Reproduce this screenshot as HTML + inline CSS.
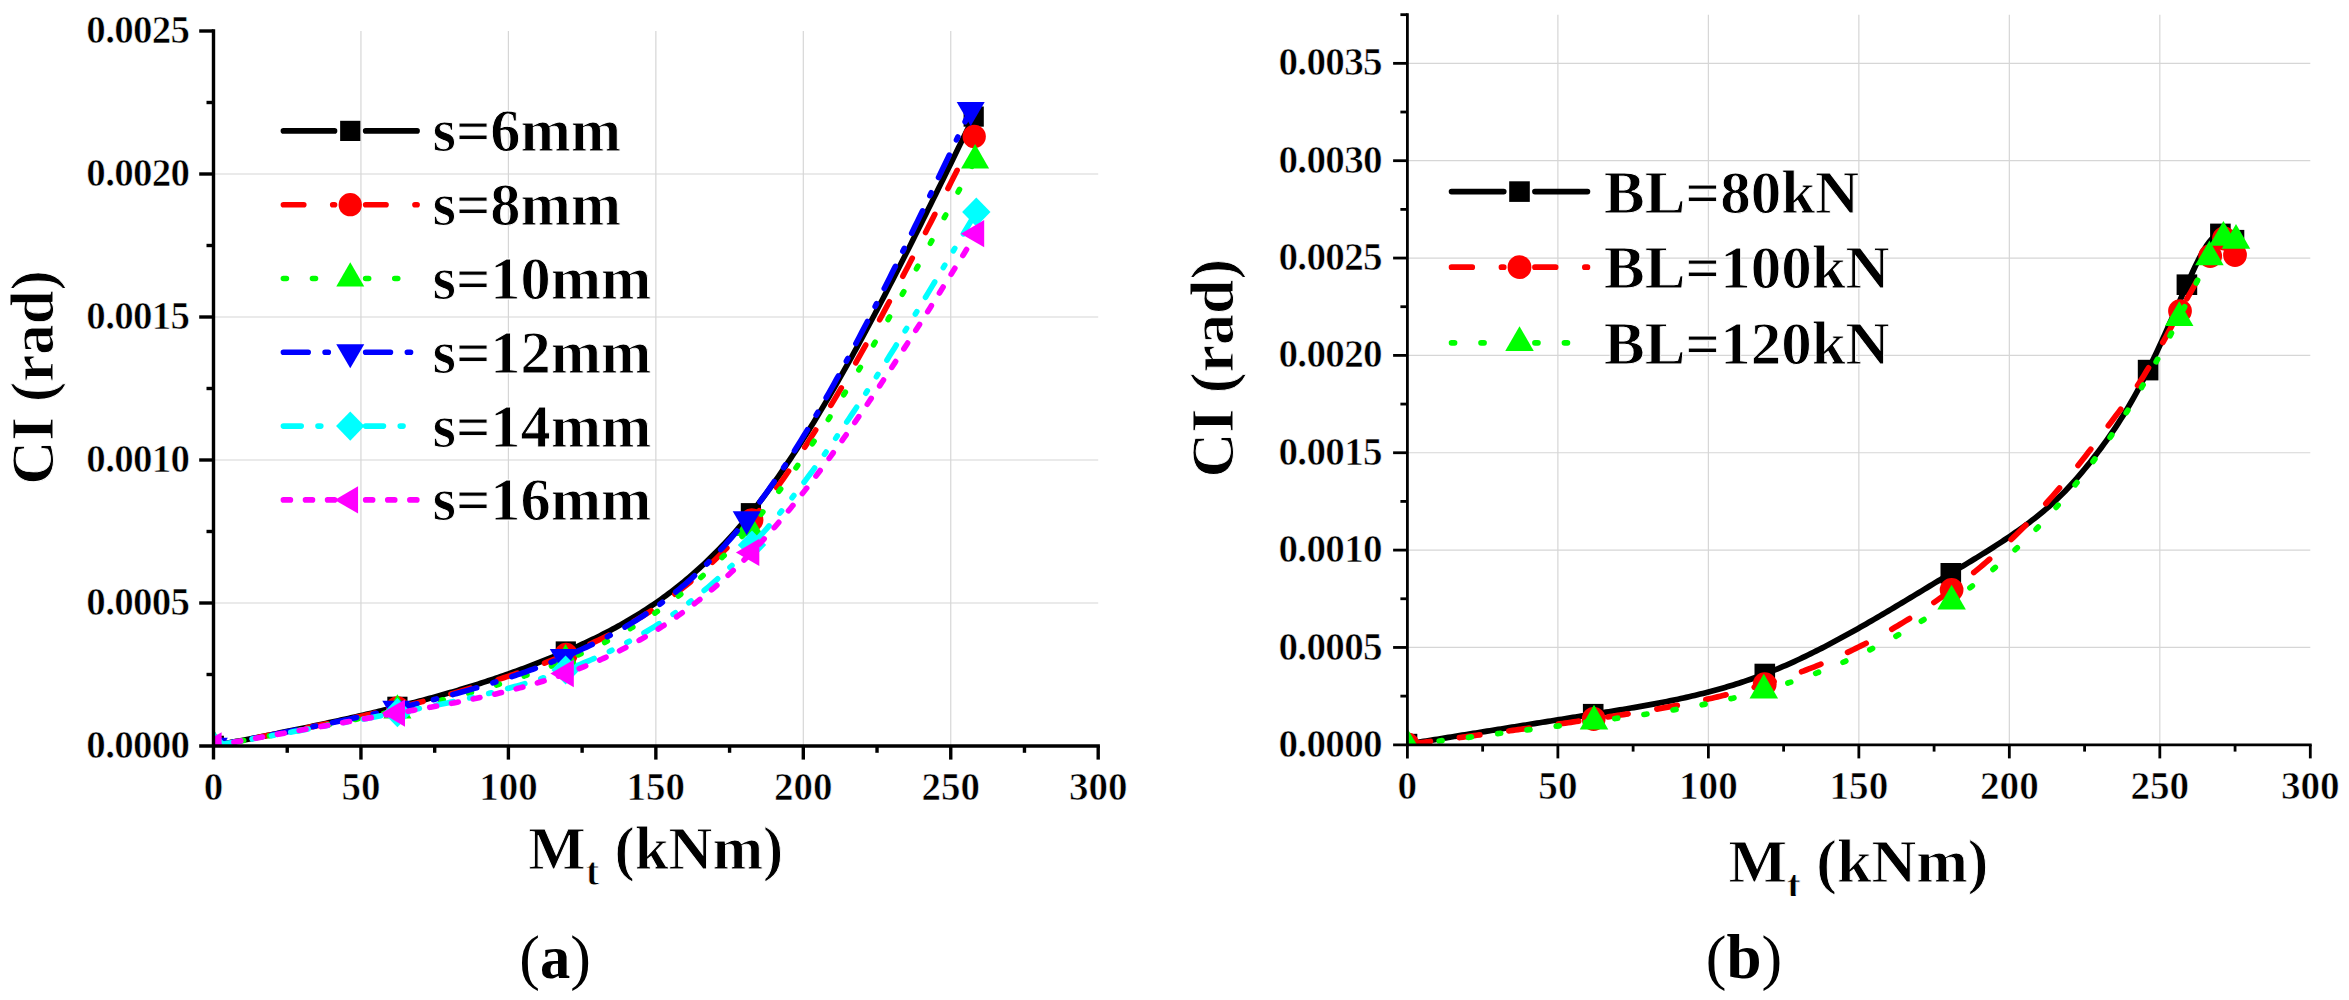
<!DOCTYPE html>
<html><head><meta charset="utf-8"><title>CI vs Mt</title>
<style>html,body{margin:0;padding:0;background:#fff}body{width:2349px;height:1000px;overflow:hidden}svg{display:block}</style>
</head><body>
<svg width="2349" height="1000" viewBox="0 0 2349 1000">
<rect width="2349" height="1000" fill="#fff"/>
<g stroke="#d6d6d6" stroke-width="1.2" fill="none"><line x1="360.95" y1="31" x2="360.95" y2="746"/><line x1="508.4" y1="31" x2="508.4" y2="746"/><line x1="655.85" y1="31" x2="655.85" y2="746"/><line x1="803.3" y1="31" x2="803.3" y2="746"/><line x1="950.75" y1="31" x2="950.75" y2="746"/><line x1="213.5" y1="603" x2="1098.2" y2="603"/><line x1="213.5" y1="460" x2="1098.2" y2="460"/><line x1="213.5" y1="317" x2="1098.2" y2="317"/><line x1="213.5" y1="174" x2="1098.2" y2="174"/></g>
<clipPath id="clipL"><rect x="213.5" y="0" width="2135.5" height="746"/></clipPath>
<g clip-path="url(#clipL)">
<path d="M213.8 745.8 L216.34 745.31 L218.88 744.82 L221.42 744.33 L223.97 743.84 L226.51 743.34 L229.05 742.85 L231.59 742.36 L234.13 741.87 L236.67 741.37 L239.21 740.88 L241.76 740.39 L244.3 739.89 L246.84 739.4 L249.38 738.9 L251.92 738.4 L254.46 737.91 L257.01 737.41 L259.55 736.91 L262.09 736.41 L264.63 735.91 L267.17 735.4 L269.71 734.9 L272.25 734.39 L274.8 733.89 L277.34 733.38 L279.88 732.87 L282.42 732.36 L284.96 731.85 L287.5 731.33 L290.04 730.82 L292.59 730.3 L295.13 729.78 L297.67 729.26 L300.21 728.74 L302.75 728.21 L305.29 727.69 L307.83 727.16 L310.38 726.63 L312.92 726.1 L315.46 725.56 L318 725.02 L320.54 724.48 L323.08 723.94 L325.62 723.4 L328.17 722.85 L330.71 722.3 L333.25 721.75 L335.79 721.2 L338.33 720.64 L340.87 720.08 L343.42 719.52 L345.96 718.95 L348.5 718.38 L351.04 717.81 L353.58 717.24 L356.12 716.66 L358.66 716.08 L361.21 715.5 L363.75 714.91 L366.29 714.32 L368.83 713.72 L371.37 713.13 L373.91 712.53 L376.45 711.92 L379 711.31 L381.54 710.7 L384.08 710.09 L386.62 709.47 L389.16 708.85 L391.7 708.22 L394.24 707.59 L396.79 706.95 L399.33 706.32 L401.87 705.67 L404.41 705.03 L406.95 704.37 L409.49 703.72 L412.03 703.06 L414.58 702.39 L417.12 701.72 L419.66 701.05 L422.2 700.37 L424.74 699.69 L427.28 699 L429.83 698.31 L432.37 697.61 L434.91 696.9 L437.45 696.19 L439.99 695.48 L442.53 694.76 L445.07 694.03 L447.62 693.3 L450.16 692.56 L452.7 691.82 L455.24 691.07 L457.78 690.32 L460.32 689.55 L462.86 688.79 L465.41 688.01 L467.95 687.23 L470.49 686.45 L473.03 685.65 L475.57 684.85 L478.11 684.05 L480.65 683.24 L483.2 682.42 L485.74 681.59 L488.28 680.75 L490.82 679.91 L493.36 679.07 L495.9 678.21 L498.44 677.35 L500.99 676.48 L503.53 675.6 L506.07 674.71 L508.61 673.82 L511.15 672.92 L513.69 672.01 L516.24 671.09 L518.78 670.17 L521.32 669.24 L523.86 668.3 L526.4 667.35 L528.94 666.39 L531.48 665.42 L534.03 664.45 L536.57 663.46 L539.11 662.47 L541.65 661.47 L544.19 660.46 L546.73 659.44 L549.27 658.41 L551.82 657.38 L554.36 656.33 L556.9 655.27 L559.44 654.21 L561.98 653.13 L564.52 652.05 L567.06 650.95 L569.61 649.85 L572.15 648.74 L574.69 647.61 L577.23 646.47 L579.77 645.32 L582.31 644.16 L584.85 642.99 L587.4 641.8 L589.94 640.6 L592.48 639.38 L595.02 638.15 L597.56 636.9 L600.1 635.64 L602.65 634.36 L605.19 633.06 L607.73 631.75 L610.27 630.41 L612.81 629.06 L615.35 627.69 L617.89 626.3 L620.44 624.89 L622.98 623.46 L625.52 622.01 L628.06 620.53 L630.6 619.04 L633.14 617.52 L635.68 615.97 L638.23 614.41 L640.77 612.82 L643.31 611.2 L645.85 609.56 L648.39 607.9 L650.93 606.2 L653.47 604.48 L656.02 602.74 L658.56 600.96 L661.1 599.16 L663.64 597.33 L666.18 595.47 L668.72 593.58 L671.26 591.66 L673.81 589.7 L676.35 587.72 L678.89 585.7 L681.43 583.66 L683.97 581.58 L686.51 579.46 L689.06 577.31 L691.6 575.13 L694.14 572.91 L696.68 570.66 L699.22 568.37 L701.76 566.05 L704.3 563.68 L706.85 561.28 L709.39 558.85 L711.93 556.37 L714.47 553.85 L717.01 551.3 L719.55 548.7 L722.09 546.07 L724.64 543.39 L727.18 540.67 L729.72 537.91 L732.26 535.11 L734.8 532.26 L737.34 529.37 L739.88 526.44 L742.43 523.46 L744.97 520.44 L747.51 517.37 L750.05 514.25 L752.59 511.09 L755.13 507.88 L757.67 504.63 L760.22 501.33 L762.76 497.98 L765.3 494.59 L767.84 491.16 L770.38 487.68 L772.92 484.16 L775.47 480.6 L778.01 477 L780.55 473.35 L783.09 469.67 L785.63 465.94 L788.17 462.18 L790.71 458.37 L793.26 454.53 L795.8 450.65 L798.34 446.73 L800.88 442.78 L803.42 438.79 L805.96 434.76 L808.5 430.7 L811.05 426.6 L813.59 422.47 L816.13 418.31 L818.67 414.11 L821.21 409.88 L823.75 405.62 L826.29 401.32 L828.84 397 L831.38 392.64 L833.92 388.26 L836.46 383.84 L839 379.4 L841.54 374.93 L844.08 370.43 L846.63 365.9 L849.17 361.35 L851.71 356.77 L854.25 352.16 L856.79 347.53 L859.33 342.87 L861.88 338.19 L864.42 333.49 L866.96 328.77 L869.5 324.02 L872.04 319.25 L874.58 314.45 L877.12 309.64 L879.67 304.81 L882.21 299.96 L884.75 295.09 L887.29 290.19 L889.83 285.29 L892.37 280.36 L894.91 275.42 L897.46 270.46 L900 265.48 L902.54 260.49 L905.08 255.48 L907.62 250.46 L910.16 245.43 L912.7 240.38 L915.25 235.32 L917.79 230.24 L920.33 225.16 L922.87 220.06 L925.41 214.95 L927.95 209.84 L930.49 204.71 L933.04 199.57 L935.58 194.43 L938.12 189.28 L940.66 184.12 L943.2 178.95 L945.74 173.78 L948.29 168.6 L950.83 163.41 L953.37 158.22 L955.91 153.03 L958.45 147.83 L960.99 142.63 L963.53 137.43 L966.08 132.22 L968.62 127.02 L971.16 121.81 L973.7 116.6" fill="none" stroke="#000000" stroke-width="5.6" stroke-linecap="round" stroke-linejoin="round"/>
<rect x="203.7" y="735.7" width="20.2" height="20.2" fill="#000000"/>
<rect x="387.3" y="696.7" width="20.2" height="20.2" fill="#000000"/>
<rect x="555.7" y="641.4" width="20.2" height="20.2" fill="#000000"/>
<rect x="740.8" y="503.1" width="20.2" height="20.2" fill="#000000"/>
<rect x="963.6" y="106.5" width="20.2" height="20.2" fill="#000000"/>
<path d="M213.8 745.8 L216.34 745.32 L218.89 744.84 L221.43 744.36 L223.97 743.87 L226.52 743.39 L229.06 742.91 L231.6 742.43 L234.15 741.95 L236.69 741.46 L239.23 740.98 L241.77 740.5 L244.32 740.01 L246.86 739.53 L249.4 739.04 L251.95 738.55 L254.49 738.07 L257.03 737.58 L259.58 737.09 L262.12 736.6 L264.66 736.11 L267.21 735.62 L269.75 735.12 L272.29 734.63 L274.84 734.13 L277.38 733.64 L279.92 733.14 L282.46 732.64 L285.01 732.14 L287.55 731.64 L290.09 731.13 L292.64 730.63 L295.18 730.12 L297.72 729.61 L300.27 729.1 L302.81 728.59 L305.35 728.08 L307.9 727.56 L310.44 727.04 L312.98 726.52 L315.53 726 L318.07 725.48 L320.61 724.95 L323.16 724.42 L325.7 723.89 L328.24 723.36 L330.78 722.83 L333.33 722.29 L335.87 721.75 L338.41 721.21 L340.96 720.66 L343.5 720.12 L346.04 719.57 L348.59 719.02 L351.13 718.46 L353.67 717.9 L356.22 717.34 L358.76 716.78 L361.3 716.21 L363.85 715.64 L366.39 715.07 L368.93 714.49 L371.47 713.92 L374.02 713.33 L376.56 712.75 L379.1 712.16 L381.65 711.57 L384.19 710.97 L386.73 710.37 L389.28 709.77 L391.82 709.17 L394.36 708.56 L396.91 707.94 L399.45 707.33 L401.99 706.71 L404.54 706.08 L407.08 705.45 L409.62 704.82 L412.17 704.18 L414.71 703.54 L417.25 702.9 L419.79 702.25 L422.34 701.59 L424.88 700.94 L427.42 700.27 L429.97 699.6 L432.51 698.93 L435.05 698.25 L437.6 697.57 L440.14 696.88 L442.68 696.19 L445.23 695.49 L447.77 694.79 L450.31 694.08 L452.86 693.36 L455.4 692.64 L457.94 691.91 L460.48 691.18 L463.03 690.44 L465.57 689.7 L468.11 688.95 L470.66 688.19 L473.2 687.43 L475.74 686.66 L478.29 685.89 L480.83 685.1 L483.37 684.32 L485.92 683.52 L488.46 682.72 L491 681.91 L493.55 681.09 L496.09 680.27 L498.63 679.44 L501.18 678.6 L503.72 677.76 L506.26 676.91 L508.8 676.05 L511.35 675.18 L513.89 674.3 L516.43 673.42 L518.98 672.53 L521.52 671.63 L524.06 670.73 L526.61 669.81 L529.15 668.89 L531.69 667.96 L534.24 667.02 L536.78 666.07 L539.32 665.11 L541.87 664.15 L544.41 663.17 L546.95 662.19 L549.49 661.2 L552.04 660.2 L554.58 659.19 L557.12 658.17 L559.67 657.14 L562.21 656.1 L564.75 655.06 L567.3 654 L569.84 652.94 L572.38 651.86 L574.93 650.77 L577.47 649.67 L580.01 648.56 L582.56 647.44 L585.1 646.3 L587.64 645.16 L590.19 643.99 L592.73 642.82 L595.27 641.63 L597.81 640.42 L600.36 639.2 L602.9 637.96 L605.44 636.7 L607.99 635.43 L610.53 634.14 L613.07 632.83 L615.62 631.51 L618.16 630.16 L620.7 628.8 L623.25 627.41 L625.79 626 L628.33 624.58 L630.88 623.13 L633.42 621.66 L635.96 620.16 L638.51 618.65 L641.05 617.11 L643.59 615.54 L646.13 613.96 L648.68 612.34 L651.22 610.7 L653.76 609.04 L656.31 607.35 L658.85 605.63 L661.39 603.88 L663.94 602.11 L666.48 600.31 L669.02 598.48 L671.57 596.61 L674.11 594.72 L676.65 592.8 L679.2 590.85 L681.74 588.87 L684.28 586.85 L686.82 584.81 L689.37 582.73 L691.91 580.61 L694.45 578.47 L697 576.28 L699.54 574.07 L702.08 571.82 L704.63 569.53 L707.17 567.2 L709.71 564.84 L712.26 562.45 L714.8 560.01 L717.34 557.54 L719.89 555.02 L722.43 552.47 L724.97 549.88 L727.52 547.25 L730.06 544.58 L732.6 541.86 L735.14 539.11 L737.69 536.31 L740.23 533.47 L742.77 530.59 L745.32 527.66 L747.86 524.69 L750.4 521.68 L752.95 518.61 L755.49 515.51 L758.03 512.36 L760.58 509.16 L763.12 505.93 L765.66 502.65 L768.21 499.32 L770.75 495.96 L773.29 492.55 L775.83 489.1 L778.38 485.61 L780.92 482.08 L783.46 478.52 L786.01 474.91 L788.55 471.26 L791.09 467.58 L793.64 463.86 L796.18 460.1 L798.72 456.31 L801.27 452.48 L803.81 448.62 L806.35 444.72 L808.9 440.78 L811.44 436.81 L813.98 432.81 L816.53 428.78 L819.07 424.72 L821.61 420.62 L824.15 416.49 L826.7 412.33 L829.24 408.14 L831.78 403.92 L834.33 399.68 L836.87 395.4 L839.41 391.1 L841.96 386.76 L844.5 382.41 L847.04 378.02 L849.59 373.61 L852.13 369.17 L854.67 364.71 L857.22 360.23 L859.76 355.72 L862.3 351.18 L864.84 346.63 L867.39 342.05 L869.93 337.45 L872.47 332.83 L875.02 328.19 L877.56 323.53 L880.1 318.84 L882.65 314.14 L885.19 309.42 L887.73 304.69 L890.28 299.93 L892.82 295.16 L895.36 290.37 L897.91 285.56 L900.45 280.74 L902.99 275.91 L905.54 271.06 L908.08 266.19 L910.62 261.31 L913.16 256.42 L915.71 251.52 L918.25 246.6 L920.79 241.68 L923.34 236.74 L925.88 231.79 L928.42 226.83 L930.97 221.87 L933.51 216.89 L936.05 211.91 L938.6 206.91 L941.14 201.92 L943.68 196.91 L946.23 191.9 L948.77 186.88 L951.31 181.86 L953.85 176.83 L956.4 171.8 L958.94 166.76 L961.48 161.72 L964.03 156.68 L966.57 151.64 L969.11 146.59 L971.66 141.55 L974.2 136.5" fill="none" stroke="#ff0000" stroke-width="5.6" stroke-linecap="round" stroke-linejoin="round" stroke-dasharray="20.4 28.9" stroke-dashoffset="3.7"/>
<circle cx="213.8" cy="745.8" r="11.65" fill="#ff0000"/>
<circle cx="397.5" cy="707.8" r="11.65" fill="#ff0000"/>
<circle cx="566.1" cy="654.5" r="11.65" fill="#ff0000"/>
<circle cx="751.8" cy="520" r="11.65" fill="#ff0000"/>
<circle cx="974.2" cy="136.5" r="11.65" fill="#ff0000"/>
<path d="M213.8 745.8 L216.35 745.35 L218.89 744.89 L221.44 744.44 L223.98 743.99 L226.53 743.53 L229.08 743.08 L231.62 742.62 L234.17 742.17 L236.72 741.72 L239.26 741.26 L241.81 740.8 L244.35 740.35 L246.9 739.89 L249.45 739.43 L251.99 738.98 L254.54 738.52 L257.08 738.06 L259.63 737.6 L262.18 737.14 L264.72 736.68 L267.27 736.22 L269.82 735.75 L272.36 735.29 L274.91 734.82 L277.45 734.36 L280 733.89 L282.55 733.42 L285.09 732.95 L287.64 732.48 L290.18 732.01 L292.73 731.54 L295.28 731.07 L297.82 730.59 L300.37 730.11 L302.92 729.64 L305.46 729.16 L308.01 728.68 L310.55 728.19 L313.1 727.71 L315.65 727.22 L318.19 726.73 L320.74 726.25 L323.28 725.75 L325.83 725.26 L328.38 724.77 L330.92 724.27 L333.47 723.77 L336.02 723.27 L338.56 722.77 L341.11 722.26 L343.65 721.76 L346.2 721.25 L348.75 720.74 L351.29 720.22 L353.84 719.71 L356.38 719.19 L358.93 718.67 L361.48 718.15 L364.02 717.62 L366.57 717.1 L369.12 716.57 L371.66 716.03 L374.21 715.5 L376.75 714.96 L379.3 714.42 L381.85 713.88 L384.39 713.33 L386.94 712.78 L389.48 712.23 L392.03 711.68 L394.58 711.12 L397.12 710.56 L399.67 710 L402.22 709.43 L404.76 708.86 L407.31 708.29 L409.85 707.71 L412.4 707.13 L414.95 706.55 L417.49 705.96 L420.04 705.37 L422.58 704.77 L425.13 704.17 L427.68 703.57 L430.22 702.96 L432.77 702.34 L435.32 701.72 L437.86 701.1 L440.41 700.47 L442.95 699.83 L445.5 699.19 L448.05 698.55 L450.59 697.89 L453.14 697.24 L455.68 696.57 L458.23 695.9 L460.78 695.23 L463.32 694.55 L465.87 693.86 L468.42 693.16 L470.96 692.46 L473.51 691.75 L476.05 691.04 L478.6 690.31 L481.15 689.58 L483.69 688.84 L486.24 688.1 L488.78 687.34 L491.33 686.58 L493.88 685.81 L496.42 685.04 L498.97 684.25 L501.52 683.46 L504.06 682.65 L506.61 681.84 L509.15 681.02 L511.7 680.19 L514.25 679.36 L516.79 678.51 L519.34 677.65 L521.88 676.79 L524.43 675.91 L526.98 675.02 L529.52 674.13 L532.07 673.22 L534.62 672.31 L537.16 671.38 L539.71 670.45 L542.25 669.5 L544.8 668.54 L547.35 667.57 L549.89 666.59 L552.44 665.6 L554.98 664.6 L557.53 663.59 L560.08 662.56 L562.62 661.53 L565.17 660.48 L567.72 659.42 L570.26 658.35 L572.81 657.26 L575.35 656.16 L577.9 655.05 L580.45 653.93 L582.99 652.79 L585.54 651.63 L588.08 650.46 L590.63 649.28 L593.18 648.08 L595.72 646.86 L598.27 645.63 L600.82 644.38 L603.36 643.11 L605.91 641.82 L608.45 640.52 L611 639.2 L613.55 637.86 L616.09 636.5 L618.64 635.11 L621.18 633.71 L623.73 632.29 L626.28 630.85 L628.82 629.39 L631.37 627.9 L633.92 626.39 L636.46 624.86 L639.01 623.31 L641.55 621.73 L644.1 620.13 L646.65 618.51 L649.19 616.86 L651.74 615.18 L654.28 613.48 L656.83 611.76 L659.38 610.01 L661.92 608.23 L664.47 606.43 L667.02 604.59 L669.56 602.73 L672.11 600.85 L674.65 598.93 L677.2 596.98 L679.75 595.01 L682.29 593 L684.84 590.97 L687.38 588.9 L689.93 586.81 L692.48 584.68 L695.02 582.52 L697.57 580.33 L700.12 578.11 L702.66 575.85 L705.21 573.56 L707.75 571.24 L710.3 568.88 L712.85 566.49 L715.39 564.06 L717.94 561.6 L720.48 559.1 L723.03 556.57 L725.58 554 L728.12 551.39 L730.67 548.75 L733.22 546.07 L735.76 543.35 L738.31 540.59 L740.85 537.79 L743.4 534.96 L745.95 532.08 L748.49 529.17 L751.04 526.21 L753.58 523.21 L756.13 520.18 L758.68 517.1 L761.22 513.99 L763.77 510.83 L766.32 507.64 L768.86 504.41 L771.41 501.15 L773.95 497.85 L776.5 494.51 L779.05 491.13 L781.59 487.72 L784.14 484.28 L786.68 480.8 L789.23 477.29 L791.78 473.74 L794.32 470.16 L796.87 466.55 L799.42 462.91 L801.96 459.23 L804.51 455.53 L807.05 451.79 L809.6 448.03 L812.15 444.23 L814.69 440.4 L817.24 436.55 L819.78 432.66 L822.33 428.75 L824.88 424.81 L827.42 420.85 L829.97 416.86 L832.52 412.84 L835.06 408.8 L837.61 404.73 L840.15 400.63 L842.7 396.51 L845.25 392.37 L847.79 388.21 L850.34 384.02 L852.88 379.81 L855.43 375.58 L857.98 371.32 L860.52 367.05 L863.07 362.75 L865.62 358.44 L868.16 354.1 L870.71 349.75 L873.25 345.37 L875.8 340.98 L878.35 336.57 L880.89 332.14 L883.44 327.7 L885.98 323.24 L888.53 318.76 L891.08 314.27 L893.62 309.76 L896.17 305.24 L898.72 300.71 L901.26 296.16 L903.81 291.59 L906.35 287.02 L908.9 282.43 L911.45 277.83 L913.99 273.22 L916.54 268.6 L919.08 263.96 L921.63 259.32 L924.18 254.67 L926.72 250.01 L929.27 245.33 L931.82 240.66 L934.36 235.97 L936.91 231.28 L939.45 226.58 L942 221.87 L944.55 217.15 L947.09 212.44 L949.64 207.71 L952.18 202.98 L954.73 198.25 L957.28 193.52 L959.82 188.78 L962.37 184.03 L964.92 179.29 L967.46 174.54 L970.01 169.8 L972.55 165.05 L975.1 160.3" fill="none" stroke="#00ff00" stroke-width="5.6" stroke-linecap="round" stroke-linejoin="round" stroke-dasharray="3 26.1" stroke-dashoffset="1.7"/>
<polygon points="213.8,729.6 199.8,753.9 227.8,753.9" fill="#00ff00"/>
<polygon points="397.4,694.3 383.4,718.6 411.4,718.6" fill="#00ff00"/>
<polygon points="565.6,644.1 551.6,668.4 579.6,668.4" fill="#00ff00"/>
<polygon points="749.5,511.8 735.5,536.1 763.5,536.1" fill="#00ff00"/>
<polygon points="975.1,144.1 961.1,168.4 989.1,168.4" fill="#00ff00"/>
<path d="M213.8 745.8 L216.33 745.32 L218.86 744.84 L221.39 744.37 L223.93 743.89 L226.46 743.41 L228.99 742.93 L231.52 742.45 L234.05 741.98 L236.58 741.5 L239.11 741.02 L241.65 740.54 L244.18 740.06 L246.71 739.58 L249.24 739.1 L251.77 738.61 L254.3 738.13 L256.83 737.65 L259.37 737.16 L261.9 736.68 L264.43 736.19 L266.96 735.71 L269.49 735.22 L272.02 734.73 L274.55 734.24 L277.09 733.75 L279.62 733.26 L282.15 732.77 L284.68 732.27 L287.21 731.78 L289.74 731.28 L292.27 730.78 L294.81 730.29 L297.34 729.79 L299.87 729.28 L302.4 728.78 L304.93 728.28 L307.46 727.77 L309.99 727.26 L312.53 726.75 L315.06 726.24 L317.59 725.73 L320.12 725.22 L322.65 724.7 L325.18 724.18 L327.71 723.66 L330.25 723.14 L332.78 722.62 L335.31 722.09 L337.84 721.56 L340.37 721.03 L342.9 720.5 L345.43 719.97 L347.97 719.43 L350.5 718.89 L353.03 718.35 L355.56 717.81 L358.09 717.26 L360.62 716.71 L363.15 716.16 L365.69 715.61 L368.22 715.05 L370.75 714.49 L373.28 713.93 L375.81 713.37 L378.34 712.8 L380.87 712.23 L383.41 711.66 L385.94 711.08 L388.47 710.51 L391 709.93 L393.53 709.34 L396.06 708.75 L398.59 708.16 L401.13 707.57 L403.66 706.98 L406.19 706.37 L408.72 705.77 L411.25 705.16 L413.78 704.55 L416.32 703.94 L418.85 703.32 L421.38 702.7 L423.91 702.07 L426.44 701.44 L428.97 700.8 L431.5 700.16 L434.04 699.51 L436.57 698.86 L439.1 698.21 L441.63 697.54 L444.16 696.88 L446.69 696.21 L449.22 695.53 L451.76 694.85 L454.29 694.16 L456.82 693.46 L459.35 692.76 L461.88 692.06 L464.41 691.34 L466.94 690.62 L469.48 689.9 L472.01 689.17 L474.54 688.43 L477.07 687.68 L479.6 686.93 L482.13 686.17 L484.66 685.4 L487.2 684.63 L489.73 683.85 L492.26 683.06 L494.79 682.26 L497.32 681.45 L499.85 680.64 L502.38 679.82 L504.92 678.99 L507.45 678.15 L509.98 677.31 L512.51 676.45 L515.04 675.59 L517.57 674.72 L520.1 673.84 L522.64 672.95 L525.17 672.05 L527.7 671.14 L530.23 670.22 L532.76 669.29 L535.29 668.36 L537.82 667.41 L540.36 666.45 L542.89 665.49 L545.42 664.51 L547.95 663.52 L550.48 662.52 L553.01 661.52 L555.54 660.5 L558.08 659.47 L560.61 658.43 L563.14 657.38 L565.67 656.31 L568.2 655.24 L570.73 654.15 L573.26 653.06 L575.8 651.94 L578.33 650.82 L580.86 649.68 L583.39 648.53 L585.92 647.36 L588.45 646.17 L590.98 644.97 L593.52 643.75 L596.05 642.52 L598.58 641.27 L601.11 640 L603.64 638.71 L606.17 637.4 L608.7 636.07 L611.24 634.72 L613.77 633.35 L616.3 631.96 L618.83 630.55 L621.36 629.12 L623.89 627.66 L626.42 626.18 L628.96 624.67 L631.49 623.15 L634.02 621.59 L636.55 620.01 L639.08 618.41 L641.61 616.78 L644.14 615.12 L646.68 613.43 L649.21 611.72 L651.74 609.98 L654.27 608.21 L656.8 606.41 L659.33 604.58 L661.86 602.72 L664.4 600.82 L666.93 598.9 L669.46 596.94 L671.99 594.96 L674.52 592.94 L677.05 590.88 L679.58 588.79 L682.12 586.67 L684.65 584.51 L687.18 582.32 L689.71 580.09 L692.24 577.82 L694.77 575.51 L697.3 573.17 L699.84 570.79 L702.37 568.37 L704.9 565.92 L707.43 563.42 L709.96 560.88 L712.49 558.3 L715.02 555.68 L717.56 553.02 L720.09 550.32 L722.62 547.57 L725.15 544.78 L727.68 541.94 L730.21 539.07 L732.74 536.14 L735.28 533.17 L737.81 530.16 L740.34 527.1 L742.87 523.99 L745.4 520.84 L747.93 517.63 L750.46 514.38 L753 511.08 L755.53 507.74 L758.06 504.35 L760.59 500.91 L763.12 497.43 L765.65 493.9 L768.18 490.33 L770.72 486.71 L773.25 483.06 L775.78 479.36 L778.31 475.61 L780.84 471.83 L783.37 468 L785.91 464.14 L788.44 460.23 L790.97 456.29 L793.5 452.31 L796.03 448.29 L798.56 444.23 L801.09 440.13 L803.63 436 L806.16 431.83 L808.69 427.63 L811.22 423.39 L813.75 419.12 L816.28 414.81 L818.81 410.47 L821.35 406.1 L823.88 401.7 L826.41 397.26 L828.94 392.8 L831.47 388.3 L834 383.77 L836.53 379.21 L839.07 374.63 L841.6 370.01 L844.13 365.37 L846.66 360.7 L849.19 356.01 L851.72 351.29 L854.25 346.54 L856.79 341.77 L859.32 336.97 L861.85 332.15 L864.38 327.3 L866.91 322.44 L869.44 317.55 L871.97 312.63 L874.51 307.7 L877.04 302.75 L879.57 297.78 L882.1 292.78 L884.63 287.77 L887.16 282.74 L889.69 277.69 L892.23 272.62 L894.76 267.54 L897.29 262.44 L899.82 257.33 L902.35 252.2 L904.88 247.05 L907.41 241.89 L909.95 236.72 L912.48 231.53 L915.01 226.33 L917.54 221.12 L920.07 215.9 L922.6 210.67 L925.13 205.43 L927.67 200.17 L930.2 194.91 L932.73 189.64 L935.26 184.36 L937.79 179.07 L940.32 173.78 L942.85 168.48 L945.39 163.17 L947.92 157.86 L950.45 152.54 L952.98 147.22 L955.51 141.9 L958.04 136.57 L960.57 131.24 L963.11 125.91 L965.64 120.57 L968.17 115.24 L970.7 109.9" fill="none" stroke="#0000ff" stroke-width="5.6" stroke-linecap="round" stroke-linejoin="round" stroke-dasharray="24.8 16.9 3.2 16.9" stroke-dashoffset="2.7"/>
<polygon points="213.8,761.8 199.8,737.8 227.8,737.8" fill="#0000ff"/>
<polygon points="396.3,724.7 382.3,700.7 410.3,700.7" fill="#0000ff"/>
<polygon points="563.8,673.1 549.8,649.1 577.8,649.1" fill="#0000ff"/>
<polygon points="746.7,535.2 732.7,511.2 760.7,511.2" fill="#0000ff"/>
<polygon points="970.7,125.9 956.7,101.9 984.7,101.9" fill="#0000ff"/>
<path d="M213.8 745.8 L216.35 745.35 L218.9 744.9 L221.45 744.45 L224 744 L226.55 743.55 L229.1 743.11 L231.65 742.66 L234.2 742.21 L236.75 741.76 L239.3 741.31 L241.85 740.86 L244.4 740.41 L246.95 739.96 L249.5 739.51 L252.05 739.06 L254.6 738.61 L257.15 738.16 L259.7 737.7 L262.25 737.25 L264.8 736.8 L267.35 736.35 L269.9 735.9 L272.45 735.45 L275 734.99 L277.55 734.54 L280.1 734.09 L282.65 733.63 L285.2 733.18 L287.75 732.73 L290.31 732.27 L292.86 731.82 L295.41 731.36 L297.96 730.91 L300.51 730.45 L303.06 729.99 L305.61 729.54 L308.16 729.08 L310.71 728.62 L313.26 728.16 L315.81 727.7 L318.36 727.25 L320.91 726.79 L323.46 726.33 L326.01 725.86 L328.56 725.4 L331.11 724.94 L333.66 724.48 L336.21 724.02 L338.76 723.55 L341.31 723.09 L343.86 722.62 L346.41 722.16 L348.96 721.69 L351.51 721.23 L354.06 720.76 L356.61 720.29 L359.16 719.82 L361.71 719.35 L364.26 718.88 L366.81 718.41 L369.36 717.94 L371.91 717.47 L374.46 716.99 L377.01 716.52 L379.56 716.04 L382.11 715.57 L384.66 715.09 L387.21 714.62 L389.76 714.14 L392.31 713.66 L394.86 713.18 L397.41 712.7 L399.96 712.22 L402.51 711.73 L405.06 711.25 L407.61 710.76 L410.16 710.28 L412.71 709.79 L415.26 709.3 L417.81 708.8 L420.36 708.31 L422.91 707.81 L425.46 707.31 L428.01 706.81 L430.56 706.3 L433.11 705.79 L435.66 705.27 L438.21 704.76 L440.76 704.24 L443.32 703.71 L445.87 703.18 L448.42 702.65 L450.97 702.11 L453.52 701.56 L456.07 701.01 L458.62 700.46 L461.17 699.9 L463.72 699.34 L466.27 698.76 L468.82 698.19 L471.37 697.6 L473.92 697.01 L476.47 696.42 L479.02 695.82 L481.57 695.21 L484.12 694.59 L486.67 693.96 L489.22 693.33 L491.77 692.69 L494.32 692.05 L496.87 691.39 L499.42 690.73 L501.97 690.05 L504.52 689.37 L507.07 688.68 L509.62 687.99 L512.17 687.28 L514.72 686.56 L517.27 685.83 L519.82 685.1 L522.37 684.35 L524.92 683.59 L527.47 682.83 L530.02 682.05 L532.57 681.26 L535.12 680.46 L537.67 679.65 L540.22 678.83 L542.77 678 L545.32 677.15 L547.87 676.3 L550.42 675.43 L552.97 674.55 L555.52 673.65 L558.07 672.75 L560.62 671.83 L563.17 670.9 L565.72 669.95 L568.27 669 L570.82 668.02 L573.37 667.04 L575.92 666.04 L578.47 665.02 L581.02 663.99 L583.57 662.95 L586.12 661.89 L588.67 660.81 L591.22 659.72 L593.77 658.61 L596.33 657.49 L598.88 656.35 L601.43 655.19 L603.98 654.01 L606.53 652.81 L609.08 651.6 L611.63 650.37 L614.18 649.12 L616.73 647.85 L619.28 646.56 L621.83 645.25 L624.38 643.92 L626.93 642.57 L629.48 641.2 L632.03 639.81 L634.58 638.4 L637.13 636.96 L639.68 635.51 L642.23 634.03 L644.78 632.53 L647.33 631 L649.88 629.46 L652.43 627.89 L654.98 626.29 L657.53 624.67 L660.08 623.03 L662.63 621.36 L665.18 619.67 L667.73 617.96 L670.28 616.21 L672.83 614.44 L675.38 612.65 L677.93 610.83 L680.48 608.98 L683.03 607.11 L685.58 605.2 L688.13 603.27 L690.68 601.31 L693.23 599.33 L695.78 597.31 L698.33 595.27 L700.88 593.2 L703.43 591.09 L705.98 588.96 L708.53 586.8 L711.08 584.6 L713.63 582.38 L716.18 580.12 L718.73 577.84 L721.28 575.52 L723.83 573.17 L726.38 570.79 L728.93 568.37 L731.48 565.93 L734.03 563.44 L736.58 560.93 L739.13 558.38 L741.68 555.8 L744.23 553.18 L746.78 550.53 L749.34 547.85 L751.89 545.12 L754.44 542.37 L756.99 539.57 L759.54 536.75 L762.09 533.88 L764.64 530.99 L767.19 528.06 L769.74 525.1 L772.29 522.1 L774.84 519.07 L777.39 516.01 L779.94 512.92 L782.49 509.8 L785.04 506.64 L787.59 503.46 L790.14 500.25 L792.69 497 L795.24 493.73 L797.79 490.43 L800.34 487.1 L802.89 483.74 L805.44 480.36 L807.99 476.94 L810.54 473.5 L813.09 470.04 L815.64 466.55 L818.19 463.03 L820.74 459.49 L823.29 455.92 L825.84 452.33 L828.39 448.71 L830.94 445.08 L833.49 441.41 L836.04 437.73 L838.59 434.02 L841.14 430.29 L843.69 426.54 L846.24 422.77 L848.79 418.98 L851.34 415.17 L853.89 411.34 L856.44 407.49 L858.99 403.62 L861.54 399.73 L864.09 395.82 L866.64 391.9 L869.19 387.95 L871.74 383.99 L874.29 380.02 L876.84 376.02 L879.39 372.02 L881.94 367.99 L884.49 363.95 L887.04 359.9 L889.59 355.83 L892.14 351.75 L894.69 347.66 L897.24 343.55 L899.79 339.43 L902.35 335.3 L904.9 331.15 L907.45 327 L910 322.83 L912.55 318.66 L915.1 314.47 L917.65 310.27 L920.2 306.07 L922.75 301.85 L925.3 297.63 L927.85 293.4 L930.4 289.16 L932.95 284.91 L935.5 280.66 L938.05 276.4 L940.6 272.13 L943.15 267.86 L945.7 263.59 L948.25 259.3 L950.8 255.02 L953.35 250.73 L955.9 246.43 L958.45 242.14 L961 237.84 L963.55 233.53 L966.1 229.23 L968.65 224.92 L971.2 220.62 L973.75 216.31 L976.3 212" fill="none" stroke="#00ffff" stroke-width="5.6" stroke-linecap="round" stroke-linejoin="round" stroke-dasharray="17.8 16.8 2.8 16.8 2.8 16.8" stroke-dashoffset="-4.3"/>
<polygon points="213.8,731.2 228,745.8 213.8,760.4 199.6,745.8" fill="#00ffff"/>
<polygon points="397.4,698.1 411.6,712.7 397.4,727.3 383.2,712.7" fill="#00ffff"/>
<polygon points="565.6,655.4 579.8,670 565.6,684.6 551.4,670" fill="#00ffff"/>
<polygon points="752,530.4 766.2,545 752,559.6 737.8,545" fill="#00ffff"/>
<polygon points="976.3,197.4 990.5,212 976.3,226.6 962.1,212" fill="#00ffff"/>
<path d="M213.8 745.8 L216.35 745.34 L218.9 744.88 L221.45 744.42 L224 743.96 L226.55 743.51 L229.1 743.05 L231.65 742.59 L234.2 742.13 L236.75 741.67 L239.31 741.21 L241.86 740.75 L244.41 740.29 L246.96 739.84 L249.51 739.38 L252.06 738.92 L254.61 738.46 L257.16 738 L259.71 737.54 L262.26 737.09 L264.81 736.63 L267.36 736.17 L269.91 735.71 L272.46 735.26 L275.01 734.8 L277.56 734.34 L280.11 733.88 L282.66 733.43 L285.21 732.97 L287.76 732.51 L290.32 732.05 L292.87 731.6 L295.42 731.14 L297.97 730.69 L300.52 730.23 L303.07 729.77 L305.62 729.32 L308.17 728.86 L310.72 728.41 L313.27 727.95 L315.82 727.5 L318.37 727.04 L320.92 726.59 L323.47 726.13 L326.02 725.68 L328.57 725.22 L331.12 724.77 L333.67 724.32 L336.22 723.86 L338.77 723.41 L341.33 722.96 L343.88 722.5 L346.43 722.05 L348.98 721.6 L351.53 721.15 L354.08 720.69 L356.63 720.24 L359.18 719.79 L361.73 719.34 L364.28 718.89 L366.83 718.44 L369.38 717.99 L371.93 717.54 L374.48 717.09 L377.03 716.64 L379.58 716.19 L382.13 715.74 L384.68 715.3 L387.23 714.85 L389.78 714.4 L392.34 713.95 L394.89 713.51 L397.44 713.06 L399.99 712.61 L402.54 712.17 L405.09 711.72 L407.64 711.27 L410.19 710.83 L412.74 710.38 L415.29 709.93 L417.84 709.48 L420.39 709.03 L422.94 708.57 L425.49 708.12 L428.04 707.66 L430.59 707.2 L433.14 706.74 L435.69 706.27 L438.24 705.8 L440.79 705.33 L443.35 704.86 L445.9 704.38 L448.45 703.9 L451 703.41 L453.55 702.92 L456.1 702.42 L458.65 701.92 L461.2 701.42 L463.75 700.91 L466.3 700.39 L468.85 699.87 L471.4 699.34 L473.95 698.81 L476.5 698.26 L479.05 697.72 L481.6 697.16 L484.15 696.6 L486.7 696.03 L489.25 695.46 L491.8 694.87 L494.36 694.28 L496.91 693.68 L499.46 693.08 L502.01 692.46 L504.56 691.83 L507.11 691.2 L509.66 690.55 L512.21 689.9 L514.76 689.24 L517.31 688.56 L519.86 687.88 L522.41 687.19 L524.96 686.48 L527.51 685.77 L530.06 685.04 L532.61 684.3 L535.16 683.55 L537.71 682.79 L540.26 682.02 L542.81 681.24 L545.37 680.44 L547.92 679.63 L550.47 678.8 L553.02 677.97 L555.57 677.12 L558.12 676.26 L560.67 675.38 L563.22 674.49 L565.77 673.58 L568.32 672.66 L570.87 671.73 L573.42 670.78 L575.97 669.82 L578.52 668.84 L581.07 667.84 L583.62 666.83 L586.17 665.8 L588.72 664.76 L591.27 663.7 L593.82 662.62 L596.38 661.52 L598.93 660.41 L601.48 659.28 L604.03 658.13 L606.58 656.96 L609.13 655.78 L611.68 654.57 L614.23 653.35 L616.78 652.11 L619.33 650.85 L621.88 649.57 L624.43 648.26 L626.98 646.94 L629.53 645.6 L632.08 644.23 L634.63 642.85 L637.18 641.44 L639.73 640.02 L642.28 638.57 L644.83 637.09 L647.39 635.6 L649.94 634.08 L652.49 632.54 L655.04 630.98 L657.59 629.4 L660.14 627.79 L662.69 626.15 L665.24 624.5 L667.79 622.81 L670.34 621.11 L672.89 619.37 L675.44 617.62 L677.99 615.83 L680.54 614.03 L683.09 612.19 L685.64 610.33 L688.19 608.45 L690.74 606.53 L693.29 604.59 L695.84 602.62 L698.4 600.63 L700.95 598.61 L703.5 596.55 L706.05 594.48 L708.6 592.37 L711.15 590.23 L713.7 588.07 L716.25 585.87 L718.8 583.65 L721.35 581.39 L723.9 579.11 L726.45 576.79 L729 574.45 L731.55 572.07 L734.1 569.67 L736.65 567.23 L739.2 564.76 L741.75 562.26 L744.3 559.72 L746.85 557.16 L749.41 554.56 L751.96 551.93 L754.51 549.26 L757.06 546.57 L759.61 543.84 L762.16 541.07 L764.71 538.28 L767.26 535.46 L769.81 532.6 L772.36 529.72 L774.91 526.8 L777.46 523.86 L780.01 520.89 L782.56 517.88 L785.11 514.85 L787.66 511.79 L790.21 508.7 L792.76 505.59 L795.31 502.45 L797.86 499.28 L800.42 496.09 L802.97 492.87 L805.52 489.62 L808.07 486.35 L810.62 483.05 L813.17 479.73 L815.72 476.39 L818.27 473.02 L820.82 469.63 L823.37 466.22 L825.92 462.78 L828.47 459.32 L831.02 455.84 L833.57 452.34 L836.12 448.82 L838.67 445.27 L841.22 441.71 L843.77 438.13 L846.32 434.52 L848.87 430.9 L851.43 427.26 L853.98 423.6 L856.53 419.92 L859.08 416.23 L861.63 412.52 L864.18 408.79 L866.73 405.04 L869.28 401.28 L871.83 397.5 L874.38 393.71 L876.93 389.9 L879.48 386.08 L882.03 382.24 L884.58 378.39 L887.13 374.53 L889.68 370.65 L892.23 366.76 L894.78 362.86 L897.33 358.95 L899.88 355.02 L902.44 351.08 L904.99 347.14 L907.54 343.18 L910.09 339.21 L912.64 335.23 L915.19 331.24 L917.74 327.25 L920.29 323.24 L922.84 319.23 L925.39 315.21 L927.94 311.18 L930.49 307.14 L933.04 303.1 L935.59 299.05 L938.14 294.99 L940.69 290.93 L943.24 286.87 L945.79 282.8 L948.34 278.72 L950.89 274.64 L953.45 270.56 L956 266.47 L958.55 262.38 L961.1 258.29 L963.65 254.19 L966.2 250.1 L968.75 246 L971.3 241.9 L973.85 237.8 L976.4 233.7" fill="none" stroke="#ff00ff" stroke-width="5.6" stroke-linecap="round" stroke-linejoin="round" stroke-dasharray="7 15.1" stroke-dashoffset="1.7"/>
<polygon points="198.2,745.8 221.6,732.15 221.6,759.45" fill="#ff00ff"/>
<polygon points="381.6,713.1 405,699.45 405,726.75" fill="#ff00ff"/>
<polygon points="550.4,673.5 573.8,659.85 573.8,687.15" fill="#ff00ff"/>
<polygon points="735.9,552.4 759.3,538.75 759.3,566.05" fill="#ff00ff"/>
<polygon points="960.8,233.7 984.2,220.05 984.2,247.35" fill="#ff00ff"/>
</g>
<g stroke="#000" stroke-width="3.4" fill="none"><line x1="213.5" y1="29.3" x2="213.5" y2="759.6"/><line x1="199.2" y1="746" x2="1099.9" y2="746"/><line x1="287.23" y1="746" x2="287.23" y2="752.8"/><line x1="360.95" y1="746" x2="360.95" y2="759.6"/><line x1="434.68" y1="746" x2="434.68" y2="752.8"/><line x1="508.4" y1="746" x2="508.4" y2="759.6"/><line x1="582.12" y1="746" x2="582.12" y2="752.8"/><line x1="655.85" y1="746" x2="655.85" y2="759.6"/><line x1="729.58" y1="746" x2="729.58" y2="752.8"/><line x1="803.3" y1="746" x2="803.3" y2="759.6"/><line x1="877.03" y1="746" x2="877.03" y2="752.8"/><line x1="950.75" y1="746" x2="950.75" y2="759.6"/><line x1="1024.47" y1="746" x2="1024.47" y2="752.8"/><line x1="1098.2" y1="746" x2="1098.2" y2="759.6"/><line x1="206.5" y1="674.5" x2="213.5" y2="674.5"/><line x1="199.2" y1="603" x2="213.5" y2="603"/><line x1="206.5" y1="531.5" x2="213.5" y2="531.5"/><line x1="199.2" y1="460" x2="213.5" y2="460"/><line x1="206.5" y1="388.5" x2="213.5" y2="388.5"/><line x1="199.2" y1="317" x2="213.5" y2="317"/><line x1="206.5" y1="245.5" x2="213.5" y2="245.5"/><line x1="199.2" y1="174" x2="213.5" y2="174"/><line x1="206.5" y1="102.5" x2="213.5" y2="102.5"/><line x1="199.2" y1="31" x2="213.5" y2="31"/></g>
<g font-family='"Liberation Serif", "DejaVu Serif", serif' font-weight="bold" font-size="39" fill="#000" stroke="#fff" stroke-width="0.6"><text x="189.4" y="757.98" text-anchor="end" letter-spacing="-0.7">0.0000</text><text x="189.4" y="614.98" text-anchor="end" letter-spacing="-0.7">0.0005</text><text x="189.4" y="471.98" text-anchor="end" letter-spacing="-0.7">0.0010</text><text x="189.4" y="328.98" text-anchor="end" letter-spacing="-0.7">0.0015</text><text x="189.4" y="185.98" text-anchor="end" letter-spacing="-0.7">0.0020</text><text x="189.4" y="42.98" text-anchor="end" letter-spacing="-0.7">0.0025</text><text x="213.5" y="799.5" text-anchor="middle">0</text><text x="360.95" y="799.5" text-anchor="middle">50</text><text x="508.4" y="799.5" text-anchor="middle">100</text><text x="655.85" y="799.5" text-anchor="middle">150</text><text x="803.3" y="799.5" text-anchor="middle">200</text><text x="950.75" y="799.5" text-anchor="middle">250</text><text x="1098.2" y="799.5" text-anchor="middle">300</text></g>
<path d="M283.4 130.9 L334.55 130.9 M365.65 130.9 L417.1 130.9" fill="none" stroke="#000000" stroke-width="5.6" stroke-linecap="round"/>
<rect x="340.15" y="120.8" width="20.2" height="20.2" fill="#000000"/>
<text x="432.4" y="151.3" font-family='"Liberation Serif", "DejaVu Serif", serif' font-weight="bold" font-size="60.4" fill="#000" stroke="#fff" stroke-width="0.9">s=6mm</text>
<path d="M283.4 204.7 L334.55 204.7 M365.65 204.7 L417.1 204.7" fill="none" stroke="#ff0000" stroke-width="5.6" stroke-linecap="round" stroke-dasharray="20.4 28.9"/>
<circle cx="350.25" cy="204.7" r="11.65" fill="#ff0000"/>
<text x="432.4" y="225.1" font-family='"Liberation Serif", "DejaVu Serif", serif' font-weight="bold" font-size="60.4" fill="#000" stroke="#fff" stroke-width="0.9">s=8mm</text>
<path d="M283.4 278.5 L334.55 278.5 M365.65 278.5 L417.1 278.5" fill="none" stroke="#00ff00" stroke-width="5.6" stroke-linecap="round" stroke-dasharray="3 26.1"/>
<polygon points="350.25,262.3 336.25,286.6 364.25,286.6" fill="#00ff00"/>
<text x="432.4" y="298.9" font-family='"Liberation Serif", "DejaVu Serif", serif' font-weight="bold" font-size="60.4" fill="#000" stroke="#fff" stroke-width="0.9">s=10mm</text>
<path d="M283.4 352.3 L334.55 352.3 M365.65 352.3 L417.1 352.3" fill="none" stroke="#0000ff" stroke-width="5.6" stroke-linecap="round" stroke-dasharray="24.8 16.9 3.2 16.9"/>
<polygon points="350.25,368.3 336.25,344.3 364.25,344.3" fill="#0000ff"/>
<text x="432.4" y="372.7" font-family='"Liberation Serif", "DejaVu Serif", serif' font-weight="bold" font-size="60.4" fill="#000" stroke="#fff" stroke-width="0.9">s=12mm</text>
<path d="M283.4 426.1 L334.55 426.1 M365.65 426.1 L417.1 426.1" fill="none" stroke="#00ffff" stroke-width="5.6" stroke-linecap="round" stroke-dasharray="17.8 16.8 2.8 16.8 2.8 16.8"/>
<polygon points="350.25,411.5 364.45,426.1 350.25,440.7 336.05,426.1" fill="#00ffff"/>
<text x="432.4" y="446.5" font-family='"Liberation Serif", "DejaVu Serif", serif' font-weight="bold" font-size="60.4" fill="#000" stroke="#fff" stroke-width="0.9">s=14mm</text>
<path d="M283.4 499.9 L334.55 499.9 M365.65 499.9 L417.1 499.9" fill="none" stroke="#ff00ff" stroke-width="5.6" stroke-linecap="round" stroke-dasharray="7 15.1"/>
<polygon points="334.65,499.9 358.05,486.25 358.05,513.55" fill="#ff00ff"/>
<text x="432.4" y="520.3" font-family='"Liberation Serif", "DejaVu Serif", serif' font-weight="bold" font-size="60.4" fill="#000" stroke="#fff" stroke-width="0.9">s=16mm</text>
<clipPath id="clipLT"><rect x="0" y="0" width="2349" height="1000"/></clipPath>
<text clip-path="url(#clipLT)" x="655.8" y="869" text-anchor="middle" font-family='"Liberation Serif", "DejaVu Serif", serif' font-weight="bold" font-size="60.8" fill="#000" stroke="#fff" stroke-width="0.9">M<tspan font-size="40.55" dy="16.23">t</tspan><tspan dy="-16.23"> (kNm)</tspan></text>
<text transform="translate(53.2 377.5) rotate(-90)" text-anchor="middle" font-family='"Liberation Serif", "DejaVu Serif", serif' font-weight="bold" font-size="60.8" fill="#000" stroke="#fff" stroke-width="0.9">CI (rad)</text>
<text x="555" y="978" text-anchor="middle" font-family='"Liberation Serif", "DejaVu Serif", serif' font-size="62" fill="#000">(<tspan font-weight="bold" font-size="60.5">a</tspan>)</text>
<g stroke="#d6d6d6" stroke-width="1.2" fill="none"><line x1="1557.88" y1="14.7" x2="1557.88" y2="744.8"/><line x1="1708.37" y1="14.7" x2="1708.37" y2="744.8"/><line x1="1858.85" y1="14.7" x2="1858.85" y2="744.8"/><line x1="2009.33" y1="14.7" x2="2009.33" y2="744.8"/><line x1="2159.82" y1="14.7" x2="2159.82" y2="744.8"/><line x1="1407.4" y1="647.45" x2="2310.3" y2="647.45"/><line x1="1407.4" y1="550.1" x2="2310.3" y2="550.1"/><line x1="1407.4" y1="452.75" x2="2310.3" y2="452.75"/><line x1="1407.4" y1="355.4" x2="2310.3" y2="355.4"/><line x1="1407.4" y1="258.05" x2="2310.3" y2="258.05"/><line x1="1407.4" y1="160.7" x2="2310.3" y2="160.7"/><line x1="1407.4" y1="63.35" x2="2310.3" y2="63.35"/></g>
<clipPath id="clipR"><rect x="1407.4" y="0" width="941.6" height="744.8"/></clipPath>
<g clip-path="url(#clipR)">
<path d="M1407 744.1 L1409.77 743.65 L1412.53 743.21 L1415.3 742.76 L1418.06 742.32 L1420.83 741.87 L1423.6 741.42 L1426.36 740.98 L1429.13 740.53 L1431.89 740.09 L1434.66 739.64 L1437.42 739.19 L1440.19 738.75 L1442.96 738.3 L1445.72 737.86 L1448.49 737.41 L1451.25 736.96 L1454.02 736.52 L1456.79 736.07 L1459.55 735.63 L1462.32 735.18 L1465.08 734.74 L1467.85 734.29 L1470.62 733.84 L1473.38 733.4 L1476.15 732.95 L1478.91 732.51 L1481.68 732.06 L1484.44 731.62 L1487.21 731.17 L1489.98 730.73 L1492.74 730.28 L1495.51 729.84 L1498.27 729.39 L1501.04 728.95 L1503.81 728.5 L1506.57 728.06 L1509.34 727.62 L1512.1 727.17 L1514.87 726.73 L1517.64 726.28 L1520.4 725.84 L1523.17 725.4 L1525.93 724.95 L1528.7 724.51 L1531.46 724.06 L1534.23 723.62 L1537 723.18 L1539.76 722.73 L1542.53 722.29 L1545.29 721.85 L1548.06 721.41 L1550.83 720.96 L1553.59 720.52 L1556.36 720.08 L1559.12 719.64 L1561.89 719.19 L1564.66 718.75 L1567.42 718.31 L1570.19 717.87 L1572.95 717.43 L1575.72 716.99 L1578.48 716.54 L1581.25 716.1 L1584.02 715.66 L1586.78 715.22 L1589.55 714.78 L1592.31 714.34 L1595.08 713.9 L1597.85 713.46 L1600.61 713.02 L1603.38 712.58 L1606.14 712.14 L1608.91 711.69 L1611.68 711.25 L1614.44 710.8 L1617.21 710.35 L1619.97 709.9 L1622.74 709.44 L1625.51 708.98 L1628.27 708.52 L1631.04 708.05 L1633.8 707.58 L1636.57 707.11 L1639.33 706.62 L1642.1 706.14 L1644.87 705.65 L1647.63 705.15 L1650.4 704.64 L1653.16 704.13 L1655.93 703.61 L1658.7 703.09 L1661.46 702.56 L1664.23 702.02 L1666.99 701.47 L1669.76 700.91 L1672.53 700.34 L1675.29 699.76 L1678.06 699.18 L1680.82 698.58 L1683.59 697.97 L1686.35 697.36 L1689.12 696.73 L1691.89 696.09 L1694.65 695.44 L1697.42 694.77 L1700.18 694.1 L1702.95 693.41 L1705.72 692.71 L1708.48 691.99 L1711.25 691.27 L1714.01 690.52 L1716.78 689.77 L1719.55 688.99 L1722.31 688.21 L1725.08 687.41 L1727.84 686.59 L1730.61 685.76 L1733.37 684.91 L1736.14 684.04 L1738.91 683.16 L1741.67 682.26 L1744.44 681.34 L1747.2 680.4 L1749.97 679.45 L1752.74 678.47 L1755.5 677.48 L1758.27 676.47 L1761.03 675.44 L1763.8 674.39 L1766.57 673.31 L1769.33 672.22 L1772.1 671.11 L1774.86 669.98 L1777.63 668.83 L1780.39 667.66 L1783.16 666.47 L1785.93 665.27 L1788.69 664.04 L1791.46 662.8 L1794.22 661.54 L1796.99 660.27 L1799.76 658.97 L1802.52 657.67 L1805.29 656.34 L1808.05 655 L1810.82 653.65 L1813.59 652.28 L1816.35 650.9 L1819.12 649.5 L1821.88 648.09 L1824.65 646.67 L1827.41 645.23 L1830.18 643.78 L1832.95 642.32 L1835.71 640.84 L1838.48 639.36 L1841.24 637.86 L1844.01 636.35 L1846.78 634.83 L1849.54 633.3 L1852.31 631.76 L1855.07 630.22 L1857.84 628.66 L1860.61 627.09 L1863.37 625.52 L1866.14 623.93 L1868.9 622.34 L1871.67 620.74 L1874.43 619.14 L1877.2 617.52 L1879.97 615.91 L1882.73 614.28 L1885.5 612.65 L1888.26 611.01 L1891.03 609.37 L1893.8 607.72 L1896.56 606.07 L1899.33 604.42 L1902.09 602.76 L1904.86 601.1 L1907.63 599.43 L1910.39 597.76 L1913.16 596.09 L1915.92 594.42 L1918.69 592.75 L1921.45 591.07 L1924.22 589.39 L1926.99 587.72 L1929.75 586.04 L1932.52 584.36 L1935.28 582.68 L1938.05 581.01 L1940.82 579.33 L1943.58 577.66 L1946.35 575.99 L1949.11 574.32 L1951.88 572.65 L1954.65 570.98 L1957.41 569.32 L1960.18 567.65 L1962.94 565.99 L1965.71 564.32 L1968.47 562.65 L1971.24 560.97 L1974.01 559.28 L1976.77 557.59 L1979.54 555.89 L1982.3 554.18 L1985.07 552.46 L1987.84 550.73 L1990.6 548.98 L1993.37 547.22 L1996.13 545.44 L1998.9 543.65 L2001.67 541.83 L2004.43 540 L2007.2 538.15 L2009.96 536.27 L2012.73 534.37 L2015.49 532.45 L2018.26 530.5 L2021.03 528.52 L2023.79 526.52 L2026.56 524.49 L2029.32 522.42 L2032.09 520.32 L2034.86 518.19 L2037.62 516 L2040.39 513.78 L2043.15 511.5 L2045.92 509.16 L2048.69 506.77 L2051.45 504.32 L2054.22 501.79 L2056.98 499.2 L2059.75 496.53 L2062.52 493.78 L2065.28 490.95 L2068.05 488.04 L2070.81 485.06 L2073.58 482 L2076.34 478.86 L2079.11 475.65 L2081.88 472.38 L2084.64 469.03 L2087.41 465.62 L2090.17 462.15 L2092.94 458.62 L2095.71 455.02 L2098.47 451.37 L2101.24 447.67 L2104 443.9 L2106.77 440.06 L2109.54 436.14 L2112.3 432.14 L2115.07 428.05 L2117.83 423.86 L2120.6 419.57 L2123.36 415.17 L2126.13 410.65 L2128.9 406.01 L2131.66 401.24 L2134.43 396.33 L2137.19 391.28 L2139.96 386.1 L2142.73 380.78 L2145.49 375.34 L2148.26 369.78 L2151.02 364.11 L2153.79 358.33 L2156.56 352.45 L2159.32 346.49 L2162.09 340.46 L2164.85 334.37 L2167.62 328.22 L2170.38 322.03 L2173.15 315.8 L2175.92 309.55 L2178.68 303.29 L2181.45 297.02 L2184.21 290.76 L2186.98 284.52 L2189.75 278.32 L2192.51 272.22 L2195.28 266.31 L2198.04 260.65 L2200.81 255.33 L2203.58 250.42 L2206.34 246 L2209.11 242.15 L2211.87 238.94 L2214.64 236.45 L2217.4 234.75 L2220.17 233.93 L2222.94 234.02 L2225.7 234.88 L2228.47 236.33 L2231.23 238.17 L2234 240.2" fill="none" stroke="#000000" stroke-width="5.7" stroke-linecap="round" stroke-linejoin="round"/>
<rect x="1396.7" y="733.8" width="20.6" height="20.6" fill="#000000"/>
<rect x="1582.9" y="703.9" width="20.6" height="20.6" fill="#000000"/>
<rect x="1754.5" y="663.7" width="20.6" height="20.6" fill="#000000"/>
<rect x="1940.5" y="563" width="20.6" height="20.6" fill="#000000"/>
<rect x="2137.8" y="359.8" width="20.6" height="20.6" fill="#000000"/>
<rect x="2176.6" y="274.4" width="20.6" height="20.6" fill="#000000"/>
<rect x="2210.1" y="223.6" width="20.6" height="20.6" fill="#000000"/>
<rect x="2223.7" y="229.9" width="20.6" height="20.6" fill="#000000"/>
<path d="M1407.5 744.5 L1410.27 744.13 L1413.04 743.77 L1415.8 743.4 L1418.57 743.03 L1421.34 742.67 L1424.11 742.3 L1426.87 741.93 L1429.64 741.57 L1432.41 741.2 L1435.18 740.83 L1437.94 740.47 L1440.71 740.1 L1443.48 739.73 L1446.25 739.36 L1449.01 739 L1451.78 738.63 L1454.55 738.26 L1457.32 737.89 L1460.08 737.52 L1462.85 737.15 L1465.62 736.78 L1468.39 736.41 L1471.15 736.04 L1473.92 735.67 L1476.69 735.3 L1479.46 734.93 L1482.22 734.55 L1484.99 734.18 L1487.76 733.81 L1490.53 733.44 L1493.29 733.06 L1496.06 732.69 L1498.83 732.31 L1501.6 731.94 L1504.36 731.56 L1507.13 731.18 L1509.9 730.8 L1512.67 730.43 L1515.43 730.05 L1518.2 729.67 L1520.97 729.29 L1523.74 728.91 L1526.51 728.53 L1529.27 728.14 L1532.04 727.76 L1534.81 727.38 L1537.58 726.99 L1540.34 726.61 L1543.11 726.22 L1545.88 725.83 L1548.65 725.45 L1551.41 725.06 L1554.18 724.67 L1556.95 724.28 L1559.72 723.89 L1562.48 723.49 L1565.25 723.1 L1568.02 722.71 L1570.79 722.31 L1573.55 721.92 L1576.32 721.52 L1579.09 721.12 L1581.86 720.72 L1584.62 720.32 L1587.39 719.92 L1590.16 719.52 L1592.93 719.11 L1595.69 718.71 L1598.46 718.3 L1601.23 717.89 L1604 717.49 L1606.76 717.07 L1609.53 716.66 L1612.3 716.25 L1615.07 715.83 L1617.83 715.41 L1620.6 714.99 L1623.37 714.56 L1626.14 714.13 L1628.9 713.7 L1631.67 713.26 L1634.44 712.82 L1637.21 712.38 L1639.97 711.93 L1642.74 711.47 L1645.51 711.02 L1648.28 710.56 L1651.05 710.09 L1653.81 709.62 L1656.58 709.14 L1659.35 708.65 L1662.12 708.17 L1664.88 707.67 L1667.65 707.17 L1670.42 706.66 L1673.19 706.15 L1675.95 705.63 L1678.72 705.1 L1681.49 704.57 L1684.26 704.02 L1687.02 703.47 L1689.79 702.92 L1692.56 702.35 L1695.33 701.78 L1698.09 701.2 L1700.86 700.61 L1703.63 700.01 L1706.4 699.4 L1709.16 698.79 L1711.93 698.16 L1714.7 697.52 L1717.47 696.88 L1720.23 696.23 L1723 695.56 L1725.77 694.89 L1728.54 694.2 L1731.3 693.5 L1734.07 692.8 L1736.84 692.08 L1739.61 691.35 L1742.37 690.61 L1745.14 689.86 L1747.91 689.1 L1750.68 688.32 L1753.44 687.53 L1756.21 686.73 L1758.98 685.92 L1761.75 685.09 L1764.52 684.26 L1767.28 683.41 L1770.05 682.54 L1772.82 681.66 L1775.59 680.77 L1778.35 679.86 L1781.12 678.95 L1783.89 678.01 L1786.66 677.06 L1789.42 676.1 L1792.19 675.13 L1794.96 674.14 L1797.73 673.13 L1800.49 672.11 L1803.26 671.08 L1806.03 670.03 L1808.8 668.96 L1811.56 667.88 L1814.33 666.78 L1817.1 665.67 L1819.87 664.54 L1822.63 663.4 L1825.4 662.24 L1828.17 661.06 L1830.94 659.87 L1833.7 658.66 L1836.47 657.43 L1839.24 656.19 L1842.01 654.93 L1844.77 653.65 L1847.54 652.36 L1850.31 651.05 L1853.08 649.72 L1855.84 648.37 L1858.61 647 L1861.38 645.62 L1864.15 644.22 L1866.91 642.8 L1869.68 641.36 L1872.45 639.91 L1875.22 638.43 L1877.98 636.94 L1880.75 635.43 L1883.52 633.89 L1886.29 632.34 L1889.06 630.77 L1891.82 629.18 L1894.59 627.57 L1897.36 625.94 L1900.13 624.3 L1902.89 622.63 L1905.66 620.94 L1908.43 619.23 L1911.2 617.49 L1913.96 615.74 L1916.73 613.97 L1919.5 612.18 L1922.27 610.36 L1925.03 608.53 L1927.8 606.67 L1930.57 604.79 L1933.34 602.89 L1936.1 600.97 L1938.87 599.03 L1941.64 597.06 L1944.41 595.07 L1947.17 593.06 L1949.94 591.03 L1952.71 588.97 L1955.48 586.89 L1958.24 584.79 L1961.01 582.67 L1963.78 580.52 L1966.55 578.34 L1969.31 576.14 L1972.08 573.92 L1974.85 571.66 L1977.62 569.38 L1980.38 567.08 L1983.15 564.75 L1985.92 562.38 L1988.69 559.99 L1991.45 557.58 L1994.22 555.13 L1996.99 552.65 L1999.76 550.14 L2002.53 547.6 L2005.29 545.03 L2008.06 542.43 L2010.83 539.8 L2013.6 537.13 L2016.36 534.43 L2019.13 531.7 L2021.9 528.93 L2024.67 526.13 L2027.43 523.3 L2030.2 520.43 L2032.97 517.53 L2035.74 514.6 L2038.5 511.63 L2041.27 508.62 L2044.04 505.59 L2046.81 502.52 L2049.57 499.41 L2052.34 496.27 L2055.11 493.09 L2057.88 489.89 L2060.64 486.64 L2063.41 483.36 L2066.18 480.05 L2068.95 476.71 L2071.71 473.32 L2074.48 469.91 L2077.25 466.46 L2080.02 462.97 L2082.78 459.46 L2085.55 455.9 L2088.32 452.32 L2091.09 448.71 L2093.85 445.07 L2096.62 441.41 L2099.39 437.74 L2102.16 434.05 L2104.92 430.36 L2107.69 426.66 L2110.46 422.96 L2113.23 419.26 L2115.99 415.58 L2118.76 411.89 L2121.53 408.18 L2124.3 404.45 L2127.07 400.66 L2129.83 396.8 L2132.6 392.86 L2135.37 388.81 L2138.14 384.65 L2140.9 380.35 L2143.67 375.9 L2146.44 371.34 L2149.21 366.66 L2151.97 361.88 L2154.74 357.02 L2157.51 352.09 L2160.28 347.1 L2163.04 342.07 L2165.81 337.01 L2168.58 331.93 L2171.35 326.85 L2174.11 321.78 L2176.88 316.74 L2179.65 311.73 L2182.42 306.77 L2185.18 301.85 L2187.95 296.95 L2190.72 292.06 L2193.49 287.14 L2196.25 282.19 L2199.02 277.19 L2201.79 272.12 L2204.56 266.97 L2207.32 261.7 L2210.09 256.31 L2212.86 250.87 L2215.63 245.81 L2218.39 241.69 L2221.16 239.06 L2223.93 238.48 L2226.7 240.31 L2229.46 244.11 L2232.23 249.23 L2235 255" fill="none" stroke="#ff0000" stroke-width="5.7" stroke-linecap="round" stroke-linejoin="round" stroke-dasharray="20.7 29.2" stroke-dashoffset="-2.4"/>
<circle cx="1407.5" cy="744.5" r="11.88" fill="#ff0000"/>
<circle cx="1593.7" cy="719" r="11.88" fill="#ff0000"/>
<circle cx="1764.7" cy="684.2" r="11.88" fill="#ff0000"/>
<circle cx="1951.6" cy="589.8" r="11.88" fill="#ff0000"/>
<circle cx="2180" cy="311.1" r="11.88" fill="#ff0000"/>
<circle cx="2210.2" cy="256.1" r="11.88" fill="#ff0000"/>
<circle cx="2224" cy="238.5" r="11.88" fill="#ff0000"/>
<circle cx="2235" cy="255" r="11.88" fill="#ff0000"/>
<path d="M1407.5 744.9 L1410.27 744.56 L1413.04 744.21 L1415.81 743.87 L1418.58 743.52 L1421.35 743.18 L1424.13 742.83 L1426.9 742.49 L1429.67 742.14 L1432.44 741.8 L1435.21 741.45 L1437.98 741.11 L1440.75 740.76 L1443.52 740.41 L1446.29 740.07 L1449.06 739.72 L1451.83 739.38 L1454.61 739.03 L1457.38 738.69 L1460.15 738.34 L1462.92 737.99 L1465.69 737.65 L1468.46 737.3 L1471.23 736.95 L1474 736.61 L1476.77 736.26 L1479.54 735.91 L1482.31 735.57 L1485.09 735.22 L1487.86 734.87 L1490.63 734.52 L1493.4 734.17 L1496.17 733.82 L1498.94 733.48 L1501.71 733.13 L1504.48 732.78 L1507.25 732.43 L1510.02 732.08 L1512.79 731.73 L1515.57 731.38 L1518.34 731.03 L1521.11 730.67 L1523.88 730.32 L1526.65 729.97 L1529.42 729.62 L1532.19 729.27 L1534.96 728.91 L1537.73 728.56 L1540.5 728.21 L1543.27 727.85 L1546.05 727.5 L1548.82 727.14 L1551.59 726.79 L1554.36 726.43 L1557.13 726.08 L1559.9 725.72 L1562.67 725.37 L1565.44 725.01 L1568.21 724.65 L1570.98 724.29 L1573.75 723.93 L1576.53 723.57 L1579.3 723.22 L1582.07 722.86 L1584.84 722.5 L1587.61 722.13 L1590.38 721.77 L1593.15 721.41 L1595.92 721.05 L1598.69 720.69 L1601.46 720.32 L1604.23 719.96 L1607.01 719.59 L1609.78 719.22 L1612.55 718.85 L1615.32 718.48 L1618.09 718.11 L1620.86 717.73 L1623.63 717.35 L1626.4 716.97 L1629.17 716.59 L1631.94 716.2 L1634.71 715.81 L1637.48 715.42 L1640.26 715.02 L1643.03 714.62 L1645.8 714.21 L1648.57 713.8 L1651.34 713.39 L1654.11 712.97 L1656.88 712.55 L1659.65 712.12 L1662.42 711.68 L1665.19 711.24 L1667.96 710.8 L1670.74 710.35 L1673.51 709.89 L1676.28 709.42 L1679.05 708.95 L1681.82 708.47 L1684.59 707.99 L1687.36 707.5 L1690.13 707 L1692.9 706.49 L1695.67 705.98 L1698.44 705.45 L1701.22 704.92 L1703.99 704.38 L1706.76 703.84 L1709.53 703.28 L1712.3 702.71 L1715.07 702.14 L1717.84 701.55 L1720.61 700.96 L1723.38 700.36 L1726.15 699.74 L1728.92 699.12 L1731.7 698.48 L1734.47 697.84 L1737.24 697.18 L1740.01 696.51 L1742.78 695.84 L1745.55 695.15 L1748.32 694.44 L1751.09 693.73 L1753.86 693 L1756.63 692.27 L1759.4 691.52 L1762.18 690.75 L1764.95 689.98 L1767.72 689.19 L1770.49 688.39 L1773.26 687.57 L1776.03 686.74 L1778.8 685.9 L1781.57 685.04 L1784.34 684.17 L1787.11 683.29 L1789.88 682.39 L1792.66 681.48 L1795.43 680.55 L1798.2 679.61 L1800.97 678.65 L1803.74 677.68 L1806.51 676.7 L1809.28 675.7 L1812.05 674.68 L1814.82 673.65 L1817.59 672.61 L1820.36 671.55 L1823.14 670.47 L1825.91 669.38 L1828.68 668.27 L1831.45 667.14 L1834.22 666 L1836.99 664.85 L1839.76 663.67 L1842.53 662.48 L1845.3 661.28 L1848.07 660.05 L1850.84 658.81 L1853.62 657.56 L1856.39 656.28 L1859.16 654.99 L1861.93 653.69 L1864.7 652.36 L1867.47 651.02 L1870.24 649.65 L1873.01 648.28 L1875.78 646.88 L1878.55 645.46 L1881.32 644.03 L1884.1 642.58 L1886.87 641.11 L1889.64 639.62 L1892.41 638.11 L1895.18 636.59 L1897.95 635.04 L1900.72 633.48 L1903.49 631.89 L1906.26 630.29 L1909.03 628.67 L1911.8 627.02 L1914.58 625.36 L1917.35 623.68 L1920.12 621.98 L1922.89 620.26 L1925.66 618.52 L1928.43 616.75 L1931.2 614.97 L1933.97 613.17 L1936.74 611.34 L1939.51 609.5 L1942.28 607.63 L1945.06 605.74 L1947.83 603.83 L1950.6 601.9 L1953.37 599.95 L1956.14 597.98 L1958.91 595.98 L1961.68 593.96 L1964.45 591.92 L1967.22 589.86 L1969.99 587.76 L1972.76 585.65 L1975.54 583.51 L1978.31 581.34 L1981.08 579.14 L1983.85 576.92 L1986.62 574.67 L1989.39 572.39 L1992.16 570.08 L1994.93 567.74 L1997.7 565.38 L2000.47 562.98 L2003.24 560.55 L2006.02 558.09 L2008.79 555.59 L2011.56 553.07 L2014.33 550.51 L2017.1 547.91 L2019.87 545.28 L2022.64 542.62 L2025.41 539.92 L2028.18 537.19 L2030.95 534.41 L2033.72 531.6 L2036.49 528.76 L2039.27 525.87 L2042.04 522.95 L2044.81 519.98 L2047.58 516.98 L2050.35 513.94 L2053.12 510.85 L2055.89 507.72 L2058.66 504.55 L2061.43 501.34 L2064.2 498.09 L2066.97 494.79 L2069.75 491.44 L2072.52 488.06 L2075.29 484.62 L2078.06 481.14 L2080.83 477.62 L2083.6 474.04 L2086.37 470.42 L2089.14 466.75 L2091.91 463.03 L2094.68 459.26 L2097.45 455.45 L2100.23 451.58 L2103 447.66 L2105.77 443.69 L2108.54 439.67 L2111.31 435.59 L2114.08 431.46 L2116.85 427.28 L2119.62 423.05 L2122.39 418.76 L2125.16 414.41 L2127.93 410.01 L2130.71 405.55 L2133.48 401.03 L2136.25 396.46 L2139.02 391.83 L2141.79 387.14 L2144.56 382.39 L2147.33 377.58 L2150.1 372.71 L2152.87 367.78 L2155.64 362.79 L2158.41 357.74 L2161.19 352.62 L2163.96 347.44 L2166.73 342.2 L2169.5 336.89 L2172.27 331.52 L2175.04 326.09 L2177.81 320.58 L2180.58 315.01 L2183.35 309.39 L2186.12 303.72 L2188.89 298.04 L2191.67 292.35 L2194.44 286.67 L2197.21 281.02 L2199.98 275.42 L2202.75 269.89 L2205.52 264.45 L2208.29 259.11 L2211.06 253.89 L2213.83 248.96 L2216.6 244.55 L2219.37 240.91 L2222.15 238.28 L2224.92 236.92 L2227.69 236.75 L2230.46 237.5 L2233.23 238.85 L2236 240.5" fill="none" stroke="#00ff00" stroke-width="5.7" stroke-linecap="round" stroke-linejoin="round" stroke-dasharray="3 26.5" stroke-dashoffset="-2.4"/>
<polygon points="1407.5,728.38 1393.22,753.16 1421.78,753.16" fill="#00ff00"/>
<polygon points="1594,704.78 1579.72,729.56 1608.28,729.56" fill="#00ff00"/>
<polygon points="1763.8,673.78 1749.52,698.56 1778.08,698.56" fill="#00ff00"/>
<polygon points="1951.6,584.68 1937.32,609.46 1965.88,609.46" fill="#00ff00"/>
<polygon points="2179.2,301.28 2164.92,326.06 2193.48,326.06" fill="#00ff00"/>
<polygon points="2209.4,240.48 2195.12,265.26 2223.68,265.26" fill="#00ff00"/>
<polygon points="2223.4,220.98 2209.12,245.76 2237.68,245.76" fill="#00ff00"/>
<polygon points="2236,223.98 2221.72,248.76 2250.28,248.76" fill="#00ff00"/>
</g>
<g stroke="#000" stroke-width="2.8" fill="none"><line x1="1407.4" y1="13.3" x2="1407.4" y2="758.4"/><line x1="1393.1" y1="744.8" x2="2311.7" y2="744.8"/><line x1="1482.64" y1="744.8" x2="1482.64" y2="751.6"/><line x1="1557.88" y1="744.8" x2="1557.88" y2="758.4"/><line x1="1633.12" y1="744.8" x2="1633.12" y2="751.6"/><line x1="1708.37" y1="744.8" x2="1708.37" y2="758.4"/><line x1="1783.61" y1="744.8" x2="1783.61" y2="751.6"/><line x1="1858.85" y1="744.8" x2="1858.85" y2="758.4"/><line x1="1934.09" y1="744.8" x2="1934.09" y2="751.6"/><line x1="2009.33" y1="744.8" x2="2009.33" y2="758.4"/><line x1="2084.58" y1="744.8" x2="2084.58" y2="751.6"/><line x1="2159.82" y1="744.8" x2="2159.82" y2="758.4"/><line x1="2235.06" y1="744.8" x2="2235.06" y2="751.6"/><line x1="2310.3" y1="744.8" x2="2310.3" y2="758.4"/><line x1="1400.4" y1="696.12" x2="1407.4" y2="696.12"/><line x1="1393.1" y1="647.45" x2="1407.4" y2="647.45"/><line x1="1400.4" y1="598.77" x2="1407.4" y2="598.77"/><line x1="1393.1" y1="550.1" x2="1407.4" y2="550.1"/><line x1="1400.4" y1="501.42" x2="1407.4" y2="501.42"/><line x1="1393.1" y1="452.75" x2="1407.4" y2="452.75"/><line x1="1400.4" y1="404.07" x2="1407.4" y2="404.07"/><line x1="1393.1" y1="355.4" x2="1407.4" y2="355.4"/><line x1="1400.4" y1="306.72" x2="1407.4" y2="306.72"/><line x1="1393.1" y1="258.05" x2="1407.4" y2="258.05"/><line x1="1400.4" y1="209.38" x2="1407.4" y2="209.38"/><line x1="1393.1" y1="160.7" x2="1407.4" y2="160.7"/><line x1="1400.4" y1="112.02" x2="1407.4" y2="112.02"/><line x1="1393.1" y1="63.35" x2="1407.4" y2="63.35"/><line x1="1400.4" y1="14.67" x2="1407.4" y2="14.67"/></g>
<g font-family='"Liberation Serif", "DejaVu Serif", serif' font-weight="bold" font-size="39.2" fill="#000" stroke="#fff" stroke-width="0.6"><text x="1382" y="756.85" text-anchor="end" letter-spacing="-0.7">0.0000</text><text x="1382" y="659.5" text-anchor="end" letter-spacing="-0.7">0.0005</text><text x="1382" y="562.15" text-anchor="end" letter-spacing="-0.7">0.0010</text><text x="1382" y="464.8" text-anchor="end" letter-spacing="-0.7">0.0015</text><text x="1382" y="367.45" text-anchor="end" letter-spacing="-0.7">0.0020</text><text x="1382" y="270.1" text-anchor="end" letter-spacing="-0.7">0.0025</text><text x="1382" y="172.75" text-anchor="end" letter-spacing="-0.7">0.0030</text><text x="1382" y="75.4" text-anchor="end" letter-spacing="-0.7">0.0035</text><text x="1407.4" y="799.4" text-anchor="middle">0</text><text x="1557.88" y="799.4" text-anchor="middle">50</text><text x="1708.37" y="799.4" text-anchor="middle">100</text><text x="1858.85" y="799.4" text-anchor="middle">150</text><text x="2009.33" y="799.4" text-anchor="middle">200</text><text x="2159.82" y="799.4" text-anchor="middle">250</text><text x="2310.3" y="799.4" text-anchor="middle">300</text></g>
<path d="M1451.55 191.6 L1503.75 191.6 M1534.95 191.6 L1587.45 191.6" fill="none" stroke="#000000" stroke-width="5.7" stroke-linecap="round"/>
<rect x="1509.2" y="181.3" width="20.6" height="20.6" fill="#000000"/>
<text x="1604" y="212.7" font-family='"Liberation Serif", "DejaVu Serif", serif' font-weight="bold" font-size="61" fill="#000" stroke="#fff" stroke-width="0.9">BL=80kN</text>
<path d="M1451.55 267.2 L1503.75 267.2 M1534.95 267.2 L1587.45 267.2" fill="none" stroke="#ff0000" stroke-width="5.7" stroke-linecap="round" stroke-dasharray="20.7 29.2"/>
<circle cx="1519.5" cy="267.2" r="11.88" fill="#ff0000"/>
<text x="1604" y="288.3" font-family='"Liberation Serif", "DejaVu Serif", serif' font-weight="bold" font-size="61" fill="#000" stroke="#fff" stroke-width="0.9">BL=100kN</text>
<path d="M1451.55 342.8 L1503.75 342.8 M1534.95 342.8 L1587.45 342.8" fill="none" stroke="#00ff00" stroke-width="5.7" stroke-linecap="round" stroke-dasharray="3 26.5"/>
<polygon points="1519.5,326.28 1505.22,351.06 1533.78,351.06" fill="#00ff00"/>
<text x="1604" y="363.9" font-family='"Liberation Serif", "DejaVu Serif", serif' font-weight="bold" font-size="61" fill="#000" stroke="#fff" stroke-width="0.9">BL=120kN</text>
<clipPath id="clipRT"><rect x="0" y="0" width="2349" height="896"/></clipPath>
<text clip-path="url(#clipRT)" x="1858.5" y="882.4" text-anchor="middle" font-family='"Liberation Serif", "DejaVu Serif", serif' font-weight="bold" font-size="62" fill="#000" stroke="#fff" stroke-width="0.9">M<tspan font-size="41.35" dy="16.55">t</tspan><tspan dy="-16.55"> (kNm)</tspan></text>
<text transform="translate(1232.9 368.2) rotate(-90)" text-anchor="middle" font-family='"Liberation Serif", "DejaVu Serif", serif' font-weight="bold" font-size="62" fill="#000" stroke="#fff" stroke-width="0.9">CI (rad)</text>
<text x="1744" y="978" text-anchor="middle" font-family='"Liberation Serif", "DejaVu Serif", serif' font-size="62" fill="#000">(<tspan font-weight="bold" font-size="63">b</tspan>)</text>
</svg>
</body></html>
